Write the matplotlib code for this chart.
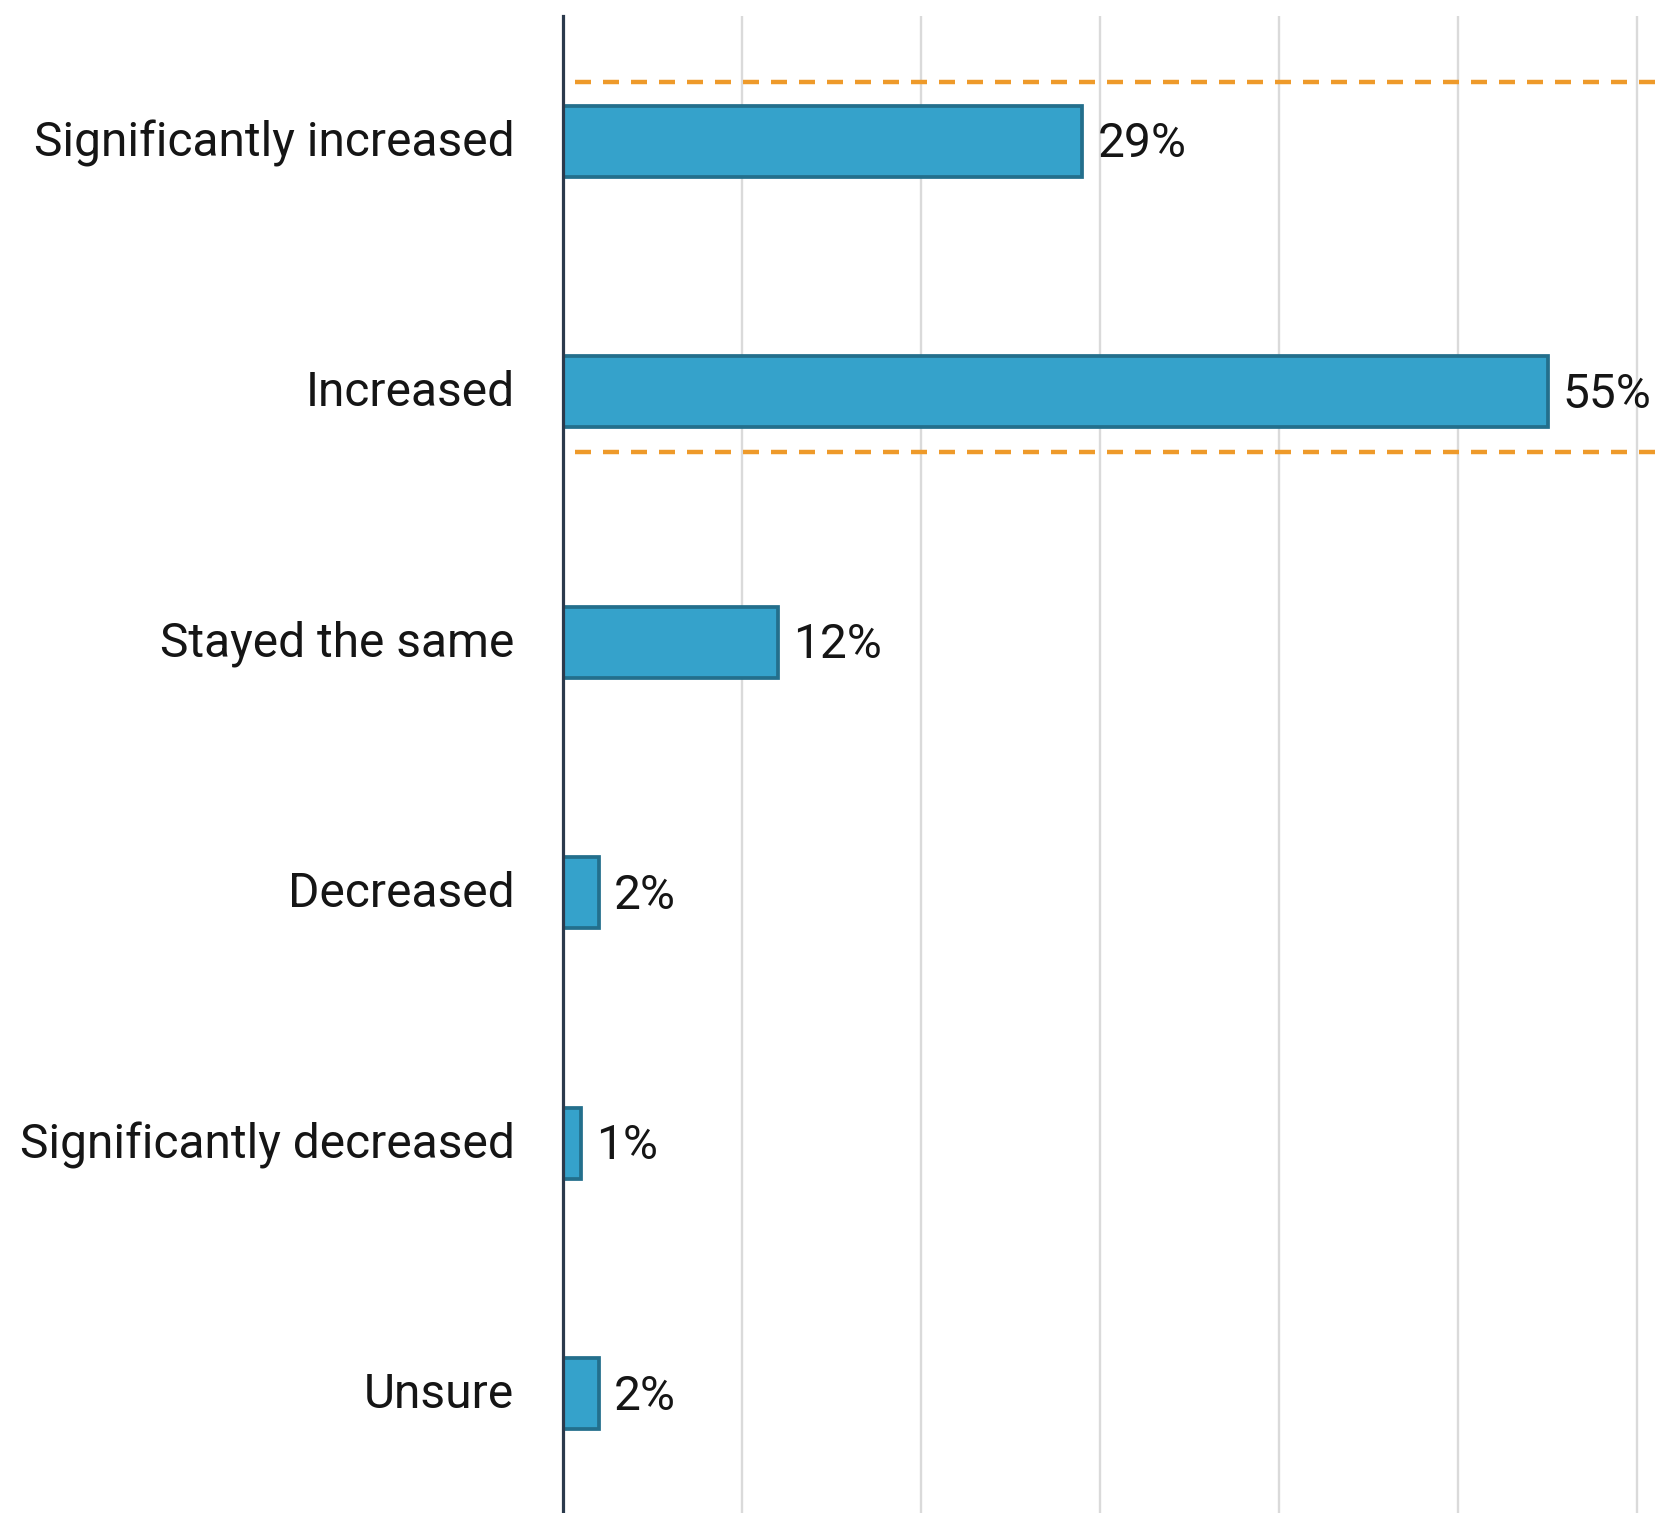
import matplotlib
matplotlib.use("Agg")
import matplotlib.pyplot as plt
import matplotlib.transforms as mtransforms

categories = ["Significantly increased", "Increased", "Stayed the same",
              "Decreased", "Significantly decreased", "Unsure"]
values = [29, 55, 12, 2, 1, 2]
value_labels = ["29%", "55%", "12%", "2%", "1%", "2%"]
bracket_positions = [-0.235, 1.24]

plt.rcParams['font.family'] = ['Roboto', 'DejaVu Sans']

W, H = 1656, 1513
fig = plt.figure(figsize=(W / 100, H / 100), dpi=100)
ax = fig.add_axes([563 / W, -6 / H, (W - 563) / W, (H - 10) / H])

ypos = list(range(len(categories)))
ax.barh(ypos, values, height=0.285, color="#35A2CB", edgecolor="#236F8C",
        linewidth=2.7, zorder=3)

ax.set_xlim(0, 61.06)
ax.set_ylim(5.5, -0.5)

ax.set_xticks([10, 20, 30, 40, 50, 60])
ax.xaxis.grid(True, color="#DADADA", linewidth=1.7, zorder=0)
ax.tick_params(axis='x', length=0, labelbottom=False)
ax.set_axisbelow(True)

ax.set_yticks(ypos)
ax.set_yticklabels(categories, fontsize=34.5, color="#151515")
ax.tick_params(axis='y', length=0, pad=35)
shift = mtransforms.ScaledTranslation(0, 2.5 / 72, fig.dpi_scale_trans)
for t in ax.get_yticklabels():
    t.set_transform(t.get_transform() + shift)

for s in ["top", "right", "bottom"]:
    ax.spines[s].set_visible(False)
ax.spines["left"].set_color("#2B3A4C")
ax.spines["left"].set_linewidth(2.3)
ax.spines["left"].set_zorder(5)

for v, lab, y in zip(values, value_labels, ypos):
    ax.annotate(lab, xy=(v, y), xytext=(11, -2), textcoords="offset points",
                va="center", ha="left", fontsize=34.5, color="#151515")

for yb in bracket_positions:
    ax.plot([0.67, 61.06], [yb, yb], color="#EE9A2A", linewidth=3.2,
            dashes=(3.6, 2.7), zorder=4, solid_capstyle="butt",
            dash_capstyle="butt", clip_on=False)

fig.savefig("out.png", dpi=100)
